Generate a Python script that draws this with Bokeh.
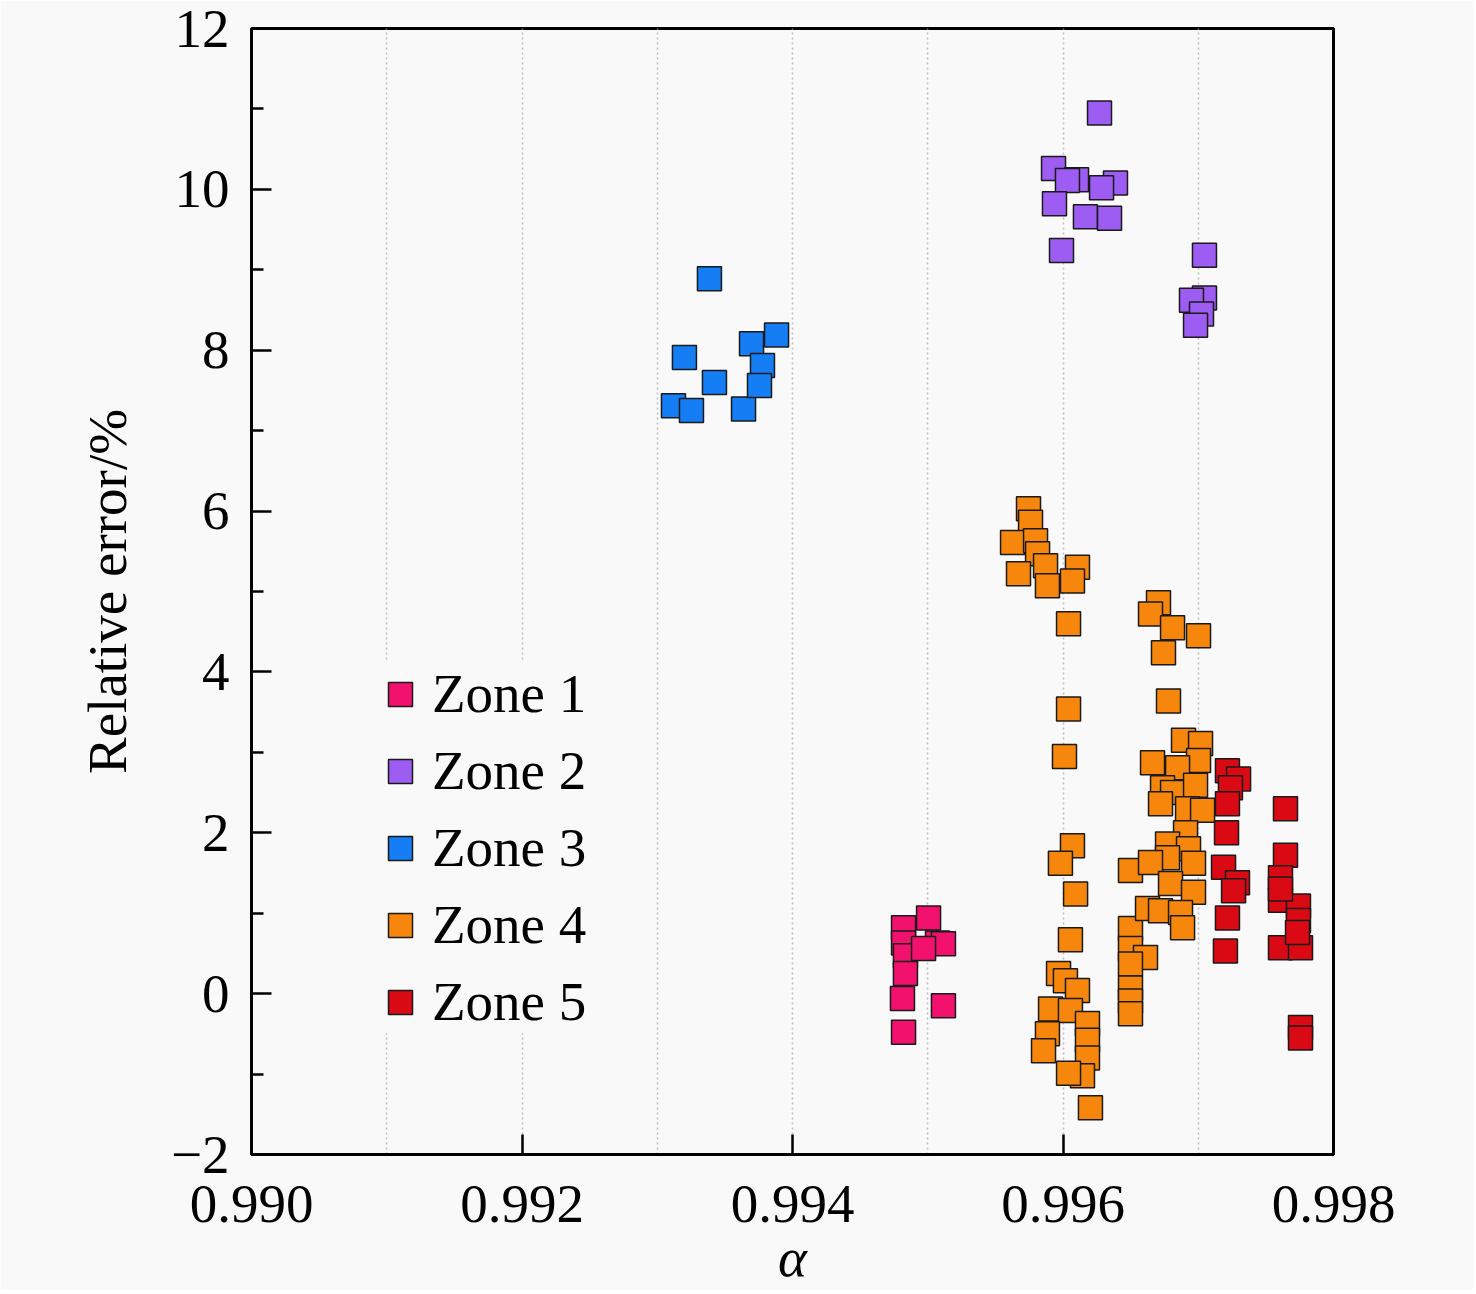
from bokeh.plotting import figure
from bokeh.models import Range1d, FixedTicker, CustomJSTickFormatter, Legend, LegendItem
from bokeh.embed import file_html
from bokeh.resources import INLINE

# ---------------- data ----------------
zone_names = ["Zone 1", "Zone 2", "Zone 3", "Zone 4", "Zone 5"]
zone_colors = ["#f2126e", "#9d5cf2", "#167ef5", "#f7860c", "#d90a14"]

zone1_x = [0.995006, 0.994821, 0.994821, 0.994835, 0.994835, 0.994813, 0.995072, 0.995116, 0.994969, 0.995116, 0.994821]
zone1_y = [0.94, 0.82, 0.63, 0.47, 0.25, -0.06, 0.63, 0.62, 0.56, -0.15, -0.48]

zone2_x = [0.996270, 0.995930, 0.996100, 0.996033, 0.996388, 0.996285, 0.995937, 0.996166, 0.996344, 0.995989,
           0.997046, 0.997046, 0.996950, 0.997024, 0.996980]
zone2_y = [10.95, 10.26, 10.12, 10.11, 10.08, 10.02, 9.82, 9.66, 9.64, 9.24,
           9.18, 8.65, 8.62, 8.45, 8.31]

zone3_x = [0.993386, 0.993201, 0.993423, 0.993120, 0.993253, 0.993638, 0.993697, 0.993882, 0.993778, 0.993756]
zone3_y = [8.89, 7.91, 7.60, 7.31, 7.25, 7.27, 8.08, 8.19, 7.81, 7.56]

zone4_x = [0.995745, 0.995760, 0.995627, 0.995797, 0.995812, 0.995871, 0.996107, 0.996070, 0.995671, 0.995885,
           0.996041, 0.996041, 0.996011, 0.996070, 0.995981, 0.996093, 0.996055, 0.995967, 0.996018, 0.996107,
           0.995908, 0.996055, 0.995885, 0.995856, 0.996181, 0.996181, 0.996181, 0.996144, 0.996041, 0.996203,
           0.996499, 0.996499, 0.996499, 0.996610, 0.996499, 0.996499, 0.996499, 0.996499,
           0.996706, 0.996647, 0.996810, 0.997002, 0.996743, 0.996780, 0.996891, 0.997017, 0.996662, 0.997002,
           0.996847, 0.996736, 0.996810, 0.996980, 0.996921, 0.997032, 0.996721, 0.996906, 0.996773, 0.996928,
           0.996773, 0.996647, 0.996965, 0.996795, 0.996965, 0.996625, 0.996721, 0.996869, 0.996884]
zone4_y = [6.03, 5.86, 5.61, 5.63, 5.47, 5.32, 5.30, 5.13, 5.22, 5.07,
           4.60, 3.54, 2.95, 1.84, 1.62, 1.24, 0.67, 0.25, 0.16, 0.04,
           -0.19, -0.21, -0.50, -0.71, -0.37, -0.58, -0.80, -1.02, -0.99, -1.42,
           1.53, 0.81, 0.56, 0.45, 0.37, 0.07, -0.09, -0.25,
           4.86, 4.72, 4.55, 4.45, 4.24, 3.64, 3.15, 3.11, 2.87, 2.90,
           2.81, 2.56, 2.50, 2.59, 2.30, 2.28, 2.36, 2.00, 1.86, 1.80,
           1.69, 1.63, 1.62, 1.37, 1.26, 1.06, 1.03, 1.01, 0.82]

zone5_x = [0.997216, 0.997298, 0.997238, 0.997216, 0.997209, 0.997645, 0.997645, 0.997187, 0.997290, 0.997261,
           0.997608, 0.997608, 0.997741, 0.997216, 0.997741, 0.997608, 0.997756, 0.997201, 0.997756, 0.997756,
           0.997734, 0.997608]
zone5_y = [2.77, 2.67, 2.56, 2.36, 2.00, 2.30, 1.72, 1.57, 1.38, 1.28,
           1.44, 1.16, 1.09, 0.94, 0.91, 0.57, 0.57, 0.53, -0.42, -0.55,
           0.76, 1.30]

x_ticks = [0.990, 0.992, 0.994, 0.996, 0.998]
x_grid_ticks = [0.991, 0.992, 0.993, 0.994, 0.995, 0.996, 0.997]
y_ticks = [-2, 0, 2, 4, 6, 8, 10, 12]
y_minor_ticks = [-1, 1, 3, 5, 7, 9, 11]

# ---------------- figure ----------------
BG = "#f9f9f9"
FONT = "Liberation Serif"
FS = "55px"

p = figure(frame_width=1082, frame_height=1126,
           x_range=Range1d(0.990, 0.998), y_range=Range1d(-2, 12),
           output_backend="svg", toolbar_location=None,
           min_border_left=251, min_border_top=28, min_border_right=140, min_border_bottom=100)
p.background_fill_color = BG
p.border_fill_color = BG
p.outline_line_color = "black"
p.outline_line_width = 3

for ax in (p.xaxis[0], p.yaxis[0]):
    ax.axis_line_width = 3
    ax.major_tick_line_width = 2.5
    ax.minor_tick_line_width = 2.5
    ax.major_tick_in = 20
    ax.major_tick_out = 0
    ax.minor_tick_in = 12
    ax.minor_tick_out = 0
    ax.major_label_text_font = FONT
    ax.major_label_text_font_size = FS
    ax.major_label_text_color = "black"
    ax.axis_label_text_font = FONT
    ax.axis_label_text_font_size = FS
    ax.axis_label_text_color = "black"

p.xaxis.ticker = FixedTicker(ticks=x_ticks, minor_ticks=[])
p.yaxis.ticker = FixedTicker(ticks=y_ticks, minor_ticks=y_minor_ticks)
p.xaxis.formatter = CustomJSTickFormatter(code="return tick.toFixed(3);")
p.yaxis.formatter = CustomJSTickFormatter(
    code="return tick < 0 ? '\u2212' + Math.abs(tick).toFixed(0) : tick.toFixed(0);")
p.xaxis.major_label_standoff = 31
p.yaxis.major_label_standoff = 22
p.xaxis.axis_label = "α"
p.xaxis.axis_label_text_font_style = "italic"
p.xaxis.axis_label_standoff = 2
p.yaxis.axis_label = "Relative error/%"
p.yaxis.axis_label_text_font_style = "normal"
p.yaxis.axis_label_standoff = 30

p.xgrid.ticker = FixedTicker(ticks=x_grid_ticks)
p.xgrid.grid_line_color = "#bdbdbd"
p.xgrid.grid_line_width = 1.5
p.xgrid.grid_line_dash = "2 3"
p.ygrid.visible = False

xs = [zone1_x, zone2_x, zone3_x, zone4_x, zone5_x]
ys = [zone1_y, zone2_y, zone3_y, zone4_y, zone5_y]
items = []
for name, color, x, y in zip(zone_names, zone_colors, xs, ys):
    r = p.scatter(x, y, marker="square", size=24, fill_color=color,
                  line_color="#1a1a1a", line_width=1.5)
    items.append(LegendItem(label=name, renderers=[r]))

legend = Legend(items=items, location=(119, 121))
legend.background_fill_color = BG
legend.background_fill_alpha = 1.0
legend.border_line_color = None
legend.padding = 30
legend.margin = 0
legend.glyph_width = 60
legend.glyph_height = 60
legend.label_height = 60
legend.spacing = 14
legend.label_standoff = 2
legend.label_text_font = FONT
legend.label_text_font_size = FS
legend.label_text_color = "black"
p.add_layout(legend, "center")

open("out.html", "w").write(file_html(p, INLINE))
